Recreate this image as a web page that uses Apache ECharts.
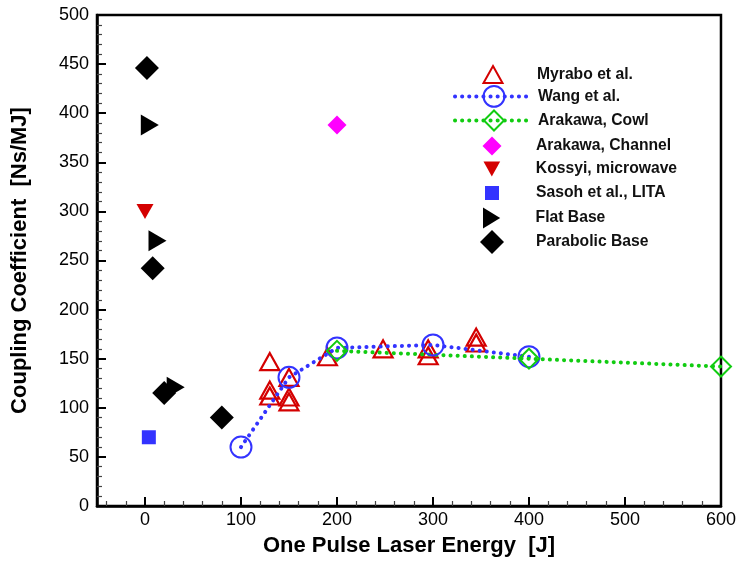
<!DOCTYPE html>
<html>
<head>
<meta charset="utf-8">
<script src="https://cdn.jsdelivr.net/npm/echarts@6/dist/echarts.min.js"></script>
<style>
	html, body { margin: 0; padding: 0; background: #fff; }
	#chart { width: 739px; height: 563px; }
</style>
</head>
<body>
<div id="chart"></div>
<script>
// tick values
var xMajorTicks = [0, 100, 200, 300, 400, 500, 600];
var xMinorTicks = [-40, -20, 20, 40, 60, 80, 120, 140, 160, 180, 220, 240, 260, 280,
	320, 340, 360, 380, 420, 440, 460, 480, 520, 540, 560, 580];

// data: [energy J, coupling Ns/MJ]
var myraboData = [[130, 147], [130, 118], [130, 112], [150, 131], [150, 111], [150, 106],
	[190, 152], [248, 160], [295, 160], [295, 153], [345, 172], [345, 166]];
var wangData = [[100, 60], [150, 131], [200, 161], [300, 164], [400, 152]];
var cowlData = [[200, 158], [400, 150], [600, 142]];
var channelData = [[200, 388]];
var kossyiData = [[0, 300]];
var sasohData = [[4, 70]];
var flatData = [[5, 388], [13, 270], [32, 121]];
var parabolicData = [[2, 446], [8, 242], [20, 115], [80, 90]];

var FONT = 'Liberation Sans, Arial, sans-serif';
var RED = '#d40000', BLUE = '#3333ff', GREEN = '#11cc11';
var NONE = 'rgba(0,0,0,0)';
var DOTS = { width: 4, type: [0.1, 7], cap: 'round' };

// one legend per entry, so every icon keeps its own size
// all icons centred on x=487, all texts start at x=536
function legendEntry(name, cy, w, h, lineW) {
	var boxW = lineW || w;
	var left = 487 - boxW / 2;
	var textX = left + boxW + 5;
	return {
		data: [name],
		orient: 'vertical',
		left: left,
		top: cy - Math.max(h, 18) / 2,
		itemWidth: boxW,
		itemHeight: h,
		lineStyle: DOTS,
		textStyle: {
			fontFamily: FONT, fontSize: 15.7, fontWeight: 'bold', color: '#111',
			padding: [0, 0, 0, 531 - textX]
		}
	};
}

var chart = echarts.init(document.getElementById('chart'));

var option = {
	animation: false,
	backgroundColor: '#fff',
	grid: {
		left: 97, right: 16, top: 15, bottom: 57,
		show: true, borderColor: '#000', borderWidth: 2.5, backgroundColor: NONE
	},
	legend: [
		legendEntry('Myrabo et al.', 69, 19, 17),
		legendEntry('Wang et al.', 93, 26, 26, 78),
		legendEntry('Arakawa, Cowl', 117, 25, 25, 78),
		legendEntry('Arakawa, Channel', 141, 19, 19),
		legendEntry('Kossyi, microwave', 165, 17, 15),
		legendEntry('Sasoh et al., LITA', 189, 14, 14),
		legendEntry('Flat Base', 213, 18, 21),
		legendEntry('Parabolic Base', 237, 24, 24)
	],
	xAxis: [{
		type: 'value', min: -50, max: 600,
		name: 'One Pulse Laser Energy  [J]', nameLocation: 'middle', nameGap: 29,
		nameTextStyle: { fontFamily: FONT, fontSize: 22, fontWeight: 'bold', color: '#000' },
		axisLine: { show: true, onZero: false, lineStyle: { color: '#000', width: 2.5 } },
		axisTick: { show: true, inside: true, length: 9, customValues: xMajorTicks, lineStyle: { color: '#000', width: 2 } },
		axisLabel: { customValues: xMajorTicks, fontFamily: FONT, fontSize: 18, color: '#000', margin: 5 },
		splitLine: { show: false }
	}, {
		type: 'value', min: -50, max: 600, position: 'bottom',
		axisLine: { show: false, onZero: false },
		axisTick: { show: true, inside: true, length: 5, customValues: xMinorTicks, lineStyle: { color: '#444', width: 1.2 } },
		axisLabel: { show: false },
		splitLine: { show: false }
	}],
	yAxis: {
		type: 'value', min: 0, max: 500, interval: 50,
		name: 'Coupling Coefficient  [Ns/MJ]', nameLocation: 'middle', nameGap: 66,
		nameTextStyle: { fontFamily: FONT, fontSize: 22, fontWeight: 'bold', color: '#000' },
		axisLine: { show: true, onZero: false, lineStyle: { color: '#000', width: 2.5 } },
		axisTick: { show: true, inside: true, length: 9, lineStyle: { color: '#000', width: 2 } },
		minorTick: { show: true, splitNumber: 5, length: 5, lineStyle: { color: '#444', width: 1.2 } },
		axisLabel: { fontFamily: FONT, fontSize: 18, color: '#000', margin: 8 },
		splitLine: { show: false }
	},
	series: [{
		name: 'Myrabo et al.', type: 'scatter', data: myraboData, clip: false,
		symbol: 'triangle', symbolSize: [19, 17],
		itemStyle: { color: NONE, borderColor: RED, borderWidth: 2.2, opacity: 1 }
	}, {
		name: 'Wang et al.', type: 'line', data: wangData, clip: false,
		symbol: 'circle', symbolSize: 21,
		itemStyle: { color: NONE, borderColor: BLUE, borderWidth: 2 },
		lineStyle: Object.assign({ color: BLUE }, DOTS)
	}, {
		name: 'Arakawa, Cowl', type: 'line', data: cowlData, clip: false,
		symbol: 'diamond', symbolSize: 20,
		itemStyle: { color: NONE, borderColor: GREEN, borderWidth: 2 },
		lineStyle: Object.assign({ color: GREEN }, DOTS)
	}, {
		name: 'Arakawa, Channel', type: 'scatter', data: channelData,
		symbol: 'diamond', symbolSize: 19,
		itemStyle: { color: '#ff00ff', opacity: 1 }
	}, {
		name: 'Kossyi, microwave', type: 'scatter', data: kossyiData,
		symbol: 'path://M0,0 L10,0 L5,9 Z', symbolSize: [17, 15],
		itemStyle: { color: RED, opacity: 1 }
	}, {
		name: 'Sasoh et al., LITA', type: 'scatter', data: sasohData,
		symbol: 'rect', symbolSize: 14,
		itemStyle: { color: BLUE, opacity: 1 }
	}, {
		name: 'Flat Base', type: 'scatter', data: flatData,
		symbol: 'path://M0,0 L9,5.5 L0,11 Z', symbolSize: [18, 21],
		itemStyle: { color: '#000', opacity: 1 }
	}, {
		name: 'Parabolic Base', type: 'scatter', data: parabolicData,
		symbol: 'diamond', symbolSize: 24,
		itemStyle: { color: '#000', opacity: 1 }
	}]
};

chart.setOption(option);
</script>
</body>
</html>
